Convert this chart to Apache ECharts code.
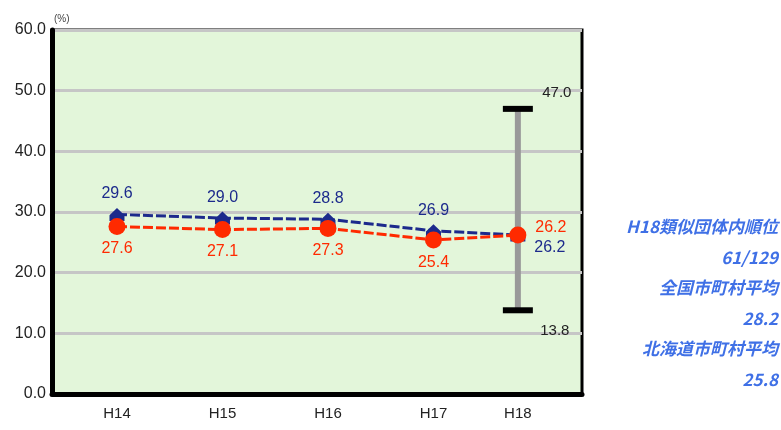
<!DOCTYPE html>
<html>
<head>
<meta charset="utf-8">
<script src="https://cdn.jsdelivr.net/npm/echarts@6/dist/echarts.min.js"></script>
<style>
  html, body { margin: 0; padding: 0; background: #fff; }
  #main { width: 781px; height: 430px; }
</style>
</head>
<body>
<div id="main"></div>
<script>
// data
const years = ["H14", "H15", "H16", "H17", "H18"];
const ownValues = [29.6, 29.0, 28.8, 26.9, 26.2];    // blue
const groupValues = [27.6, 27.1, 27.3, 25.4, 26.2];  // red
const rangeMax = 47.0;
const rangeMin = 13.8;
const yTicks = [0, 10, 20, 30, 40, 50, 60];
const sideNotes = ["H18類似団体内順位", "61/129", "全国市町村平均", "28.2", "北海道市町村平均", "25.8"];

// H18 sits a bit closer to H17 than the other steps
const slot = i => (i < 4 ? i : 3.8);
const xVals = years.map((y, i) => slot(i));

const FONT = "Liberation Sans";
const navy = "#1c2a8c";
const red = "#ff2a00";

let myChart = echarts.init(document.getElementById("main"));

const option = {
  animation: false,
  textStyle: { fontFamily: FONT },
  grid: {
    left: 52, right: 199, top: 30, bottom: 36,
    show: true,
    backgroundColor: "#e3f6da",
    borderColor: "#000",
    borderWidth: 3,
  },
  xAxis: {
    type: "value",
    min: -0.616,
    max: 4.408,
    splitLine: { show: false },
    axisLine: { show: true, onZero: false, lineStyle: { color: "#000", width: 5 } },
    axisTick: { show: false },
    axisLabel: {
      customValues: xVals,
      formatter: v => years[xVals.indexOf(v)] || "",
      color: "#222",
      fontSize: 15,
      margin: 12,
    },
  },
  yAxis: {
    type: "value",
    min: yTicks[0],
    max: yTicks[yTicks.length - 1],
    interval: 10,
    name: "(%)",
    nameLocation: "end",
    nameGap: 6,
    nameTextStyle: { fontSize: 10, color: "#444", align: "left", padding: [0, 0, 0, 2] },
    axisLine: { show: true, onZero: false, lineStyle: { color: "#000", width: 5 } },
    axisTick: { show: false },
    axisLabel: { formatter: v => v.toFixed(1), color: "#222", fontSize: 16, margin: 6 },
    splitLine: { lineStyle: { color: "#c6c6c6", width: 3 } },
  },
  series: [
    {
      type: "line",
      z: 1,
      data: [[slot(4), rangeMin], [slot(4), rangeMax]],
      symbol: "rect",
      symbolSize: [30, 6],
      itemStyle: { color: "#000" },
      lineStyle: { color: "#999", width: 6 },
      label: {
        show: true,
        position: "inside",
        color: "#222",
        fontSize: 15,
        formatter: p => p.value[1].toFixed(1),
      },
      labelLayout: p => (p.dataIndex === 1 ? { dx: 39, dy: -16 } : { dx: 37, dy: 21 }),
    },
    {
      type: "line",
      z: 3,
      data: ownValues.map((v, i) => [slot(i), v]),
      symbol: "path://M5,0 L10,5 L10,9 L0,9 L0,5 Z",
      symbolSize: [15, 13],
      itemStyle: { color: navy },
      lineStyle: { color: navy, width: 3, type: [10, 3] },
      label: {
        show: true,
        position: "top",
        distance: 6,
        color: navy,
        fontSize: 16,
        formatter: p => p.value[1].toFixed(1),
      },
      labelLayout: p => (p.dataIndex === 4 ? { dx: 32, dy: 33 } : {}),
    },
    {
      type: "line",
      z: 4,
      data: groupValues.map((v, i) => [slot(i), v]),
      symbol: "circle",
      symbolSize: 17,
      itemStyle: { color: red },
      lineStyle: { color: red, width: 3, type: [10, 3] },
      label: {
        show: true,
        position: "bottom",
        distance: 6,
        color: red,
        fontSize: 16,
        formatter: p => p.value[1].toFixed(1),
      },
      labelLayout: p => (p.dataIndex === 4 ? { dx: 33, dy: -30 } : {}),
    },
  ],
  graphic: sideNotes.map((t, i) => ({
    type: "text",
    right: 3,
    top: 218 + i * 30.6,
    style: {
      text: t,
      fill: "#3f70e6",
      font: "italic bold 17px 'Noto Sans CJK JP', 'Liberation Sans'",
    },
  })),
};

myChart.setOption(option);
</script>
</body>
</html>
